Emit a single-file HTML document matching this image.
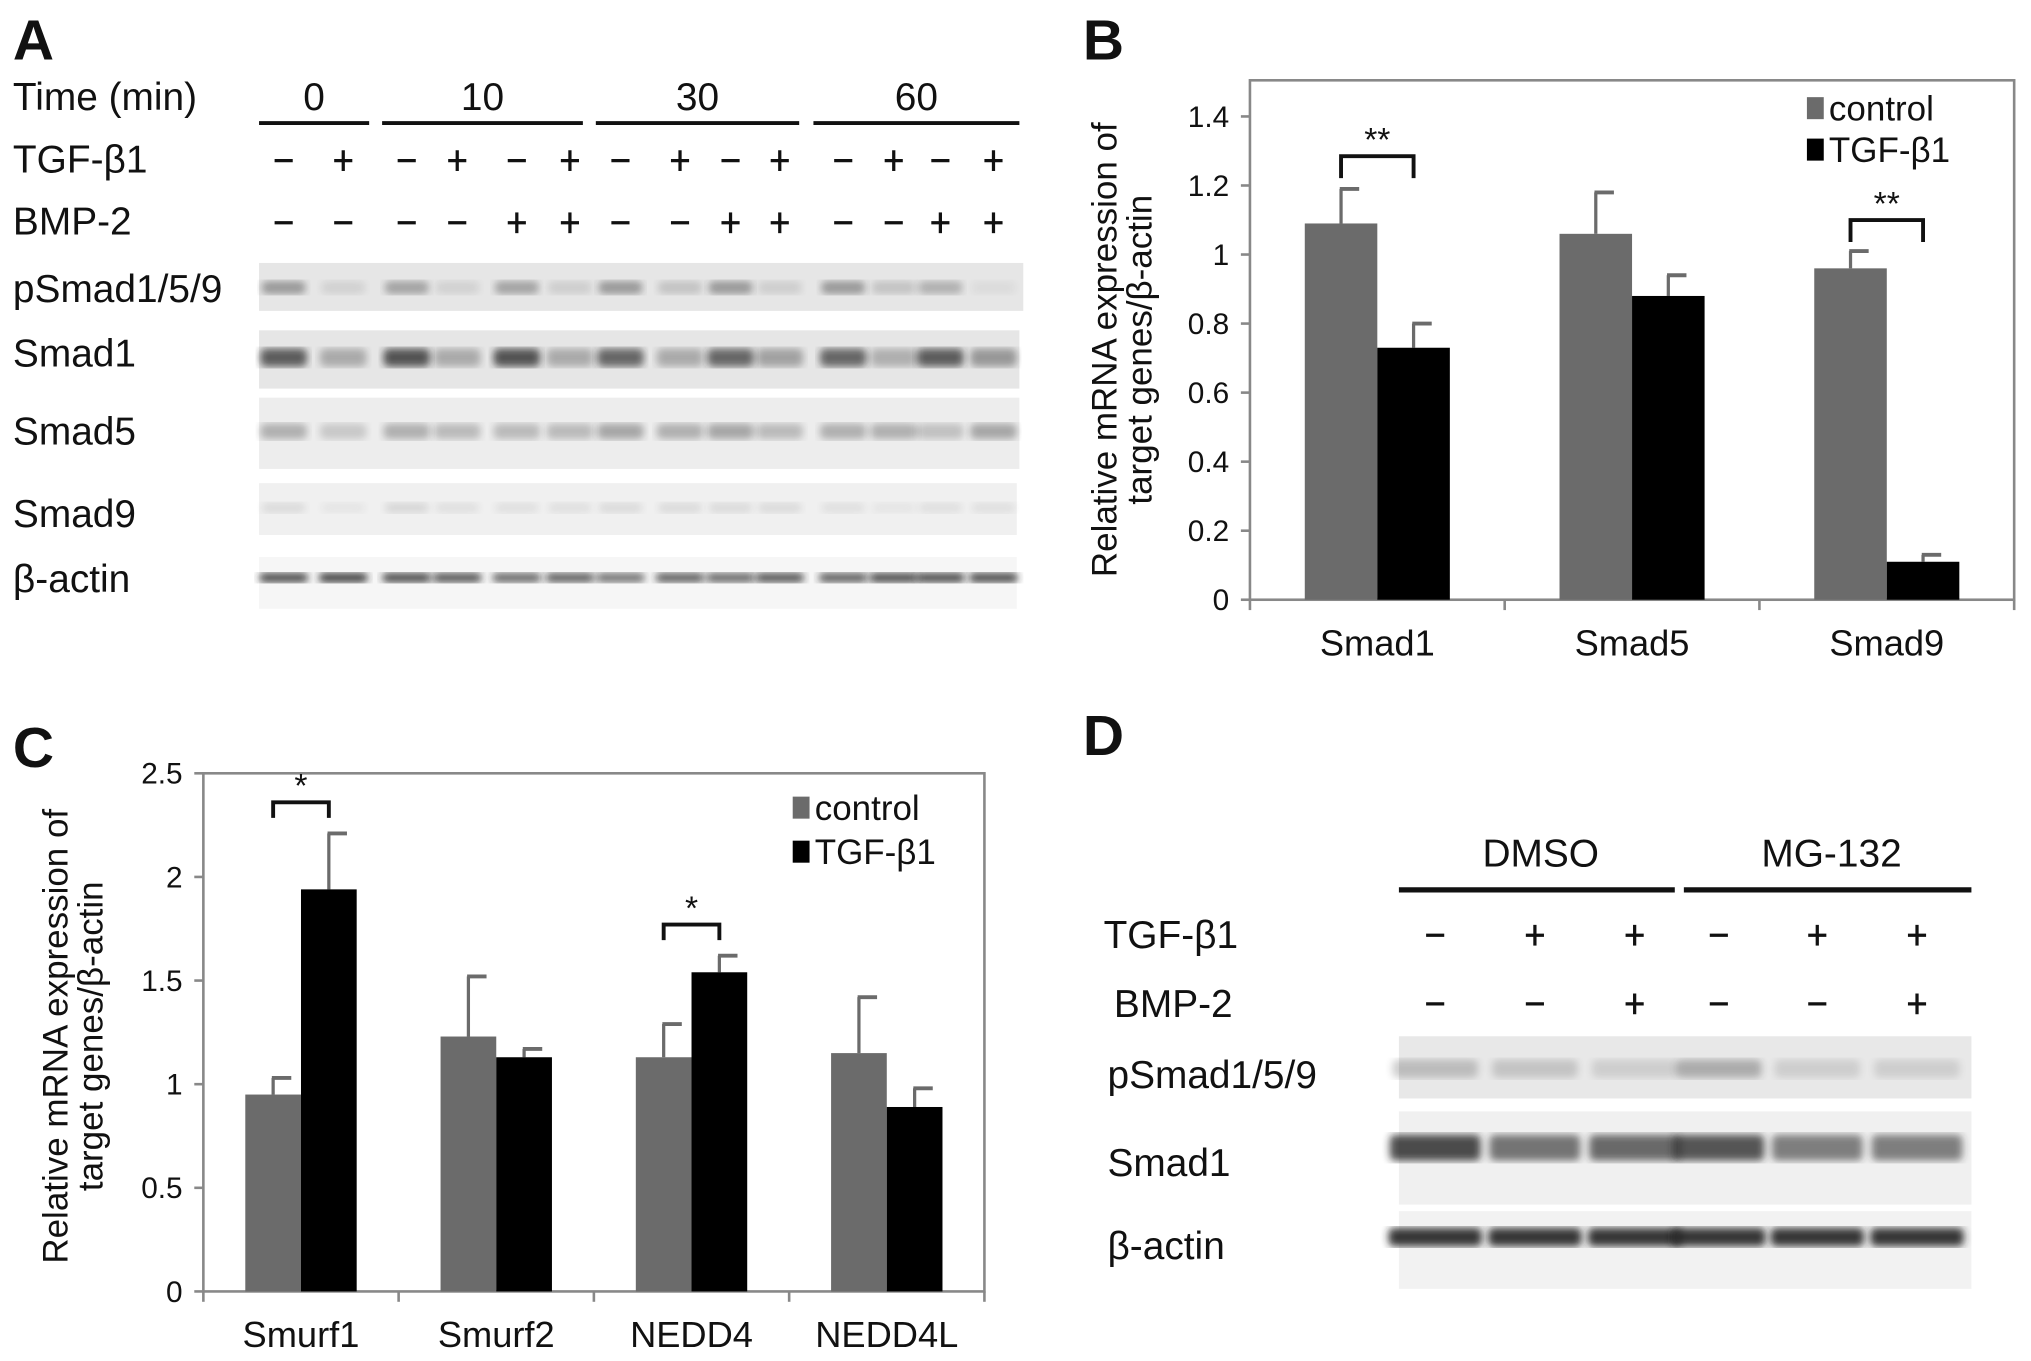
<!DOCTYPE html>
<html><head><meta charset="utf-8">
<style>
html,body{margin:0;padding:0;background:#fff;}
svg{display:block;}
text{font-family:"Liberation Sans",sans-serif;fill:#111;}
</style></head>
<body>
<svg id="fig" width="2031" height="1361" viewBox="0 0 1568 1050.7" preserveAspectRatio="none">
<defs>
<filter id="blur2"><feGaussianBlur stdDeviation="3"/></filter>
</defs>
<g id="panelA"></g>
<g id="panelB"></g>
<g id="panelC"></g>
<g id="panelD"></g>
</svg>
<script>
// ---------- Panel B data ----------
const bCategories = ["Smad1","Smad5","Smad9"];
const bControl = [1.09, 1.06, 0.96];
const bControlErr = [0.10, 0.12, 0.05];
const bTgf = [0.73, 0.88, 0.11];
const bTgfErr = [0.07, 0.06, 0.02];
const bTicks = [0,0.2,0.4,0.6,0.8,1,1.2,1.4];
const bTickLabels = ["0","0.2","0.4","0.6","0.8","1","1.2","1.4"];
// ---------- Panel C data ----------
const cCategories = ["Smurf1","Smurf2","NEDD4","NEDD4L"];
const cControl = [0.95, 1.23, 1.13, 1.15];
const cControlErr = [0.08, 0.29, 0.16, 0.27];
const cTgf = [1.94, 1.13, 1.54, 0.89];
const cTgfErr = [0.27, 0.04, 0.08, 0.09];
const cTicks = [0,0.5,1,1.5,2,2.5];
const cTickLabels = ["0","0.5","1","1.5","2","2.5"];

const NS="http://www.w3.org/2000/svg";
function mk(parent,tag,attrs,txt){const e=document.createElementNS(NS,tag);for(const k in attrs)e.setAttribute(k,attrs[k]);if(txt!==undefined)e.textContent=txt;parent.appendChild(e);return e;}

function barChart(g,cfg){
  const {left,right,top,bottom,ymax,cats,ctrl,ctrlE,tgf,tgfE,ticks,tickLabels,barW,sig,legend,title}=cfg;
  const y=v=>bottom-(v/ymax)*(bottom-top);
  const bw=(right-left)/cats.length;
  const cx=i=>left+bw*(i+0.5);
  let e=mk(g,'rect',{x:left,y:top,width:right-left,height:bottom-top,fill:'none',stroke:'#888','stroke-width':2});
  
  
  ticks.forEach((t,i)=>{
    let l=mk(g,'line',{x1:left-7,x2:left,y1:y(t),y2:y(t),stroke:'#888','stroke-width':2});
    
    
    let tx=mk(g,'text',{x:left-16,y:y(t)+8,'text-anchor':'end','font-size':23},tickLabels[i]);
    
    
  });
  for(let i=0;i<=cats.length;i++){
    let l=mk(g,'line',{x1:left+bw*i,x2:left+bw*i,y1:bottom,y2:bottom+8,stroke:'#888','stroke-width':2});
    
    
  }
  cats.forEach((c,i)=>{
    let tx=mk(g,'text',{x:cx(i),y:bottom+43,'text-anchor':'middle','font-size':28},c);
    
    
    [[ctrl,ctrlE,'#6b6b6b',-1,'control'],[tgf,tgfE,'#000',0,'tgf']].forEach(([vals,errs,col,off,nm])=>{
      const x0=cx(i)+off*barW;
      const top2=y(vals[i]+errs[i]);
      let el=mk(g,'line',{x1:x0+barW/2,x2:x0+barW/2,y1:y(vals[i]),y2:top2,stroke:'#6b6b6b','stroke-width':2.5});
      
      
      let cap=mk(g,'line',{x1:x0+barW/2-1,x2:x0+barW/2+14,y1:top2,y2:top2,stroke:'#6b6b6b','stroke-width':3});
      
      
      let r=mk(g,'rect',{x:x0,y:y(vals[i]),width:barW,height:bottom-y(vals[i]),fill:col});
      
      
    });
  });
  sig.forEach(s=>{
    const i=s.i;
    const xa=cx(i)-barW/2, xb=cx(i)+barW/2;
    const yb=y(s.v);
    let p=mk(g,'path',{d:`M${xa},${yb+s.drop} V${yb} H${xb} V${yb+s.drop}`,fill:'none',stroke:'#111','stroke-width':3});
    
    
    let t=mk(g,'text',{x:(xa+xb)/2,y:yb-4,'text-anchor':'middle','font-size':26},s.label);
    
    
  });
  [['control','#6b6b6b'],['TGF-β1','#000']].forEach(([lab,col],k)=>{
    let r=mk(g,'rect',{x:legend.x,y:legend.y+k*legend.dy,width:13,height:17,fill:col});
    
    
    let t=mk(g,'text',{x:legend.x+17,y:legend.y+k*legend.dy+18,'font-size':27},lab);
    
    
  });
  const tg=mk(g,'g',{transform:`translate(${title.x},${title.y}) rotate(-90)`});
  
  
  mk(tg,'text',{x:0,y:0,'text-anchor':'middle','font-size':27},'Relative mRNA expression of');
  mk(tg,'text',{x:0,y:27,'text-anchor':'middle','font-size':27},'target genes/β-actin');
}

barChart(document.getElementById('panelB'),{left:965,right:1555,top:62,bottom:463,ymax:1.5047,
  cats:bCategories,ctrl:bControl,ctrlE:bControlErr,tgf:bTgf,tgfE:bTgfErr,ticks:bTicks,tickLabels:bTickLabels,barW:56,
  sig:[{i:0,v:1.285,drop:17,label:'**'},{i:2,v:1.1,drop:17,label:'**'}],
  legend:{x:1395,y:75,dy:32},title:{x:862,y:270}});
barChart(document.getElementById('panelC'),{left:157,right:760,top:597,bottom:997,ymax:2.5,
  cats:cCategories,ctrl:cControl,ctrlE:cControlErr,tgf:cTgf,tgfE:cTgfErr,ticks:cTicks,tickLabels:cTickLabels,barW:43,
  sig:[{i:0,v:2.36,drop:12,label:'*'},{i:2,v:1.77,drop:12,label:'*'}],
  legend:{x:612,y:615,dy:34},title:{x:52,y:800}});

function sign(g,x,y,plus){
  let l=mk(g,'line',{x1:x-7,x2:x+7,y1:y,y2:y,stroke:'#111','stroke-width':2.5});
  
  
  if(plus){let v=mk(g,'line',{x1:x,x2:x,y1:y-8,y2:y+8,stroke:'#111','stroke-width':2.5});
    
    }
}
function label(g,x,y,t,size,name,anchor){
  let e=mk(g,'text',{x:x,y:y,'font-size':size,'text-anchor':anchor||'start'},t);
  
  
  return e;
}
function strip(g,x,y,w,h,bg,lanes,bandY,bandH,intens,name,lw){
  let r=mk(g,'rect',{x:x,y:y,width:w,height:h,fill:bg});
  
  
  lanes.forEach((lx,i)=>{
    let b=mk(g,'rect',{x:lx-lw/2,y:bandY-bandH/2,width:lw,height:bandH,rx:4,fill:'#222',opacity:intens[i],filter:'url(#blur2)'});
    
    
  });
}
const B=document.getElementById('panelB');
label(B,836,46,'B',44,'panel-label-b').setAttribute('font-weight','bold');
const C=document.getElementById('panelC');
label(C,10,592,'C',44,'panel-label-c').setAttribute('font-weight','bold');

const A=document.getElementById('panelA');
label(A,10,46,'A',44,'panel-label-a').setAttribute('font-weight','bold');
label(A,10,85,'Time (min)',30,'time-label');
label(A,10,133,'TGF-β1',30,'tgf-row-label');
label(A,10,181,'BMP-2',30,'bmp-row-label');
label(A,10,233,'pSmad1/5/9',30,'psmad-label');
label(A,10,283,'Smad1',30,'smad1-label');
label(A,10,343,'Smad5',30,'smad5-label');
label(A,10,407,'Smad9',30,'smad9-label');
label(A,10,457,'β-actin',30,'actin-label');
[[200,285,'0'],[295,450,'10'],[460,617,'30'],[628,787,'60']].forEach(([a,b,t])=>{
  let l=mk(A,'line',{x1:a,x2:b,y1:95,y2:95,stroke:'#111','stroke-width':3});
  
  
  label(A,(a+b)/2,85,t,30,'time-group-label','middle');
});
const aLanes=[219,265,314,353,399,440,479,525,564,602,651,690,726,767];
const aTgf=[0,1,0,1,0,1,0,1,0,1,0,1,0,1];
const aBmp=[0,0,0,0,1,1,0,0,1,1,0,0,1,1];
aLanes.forEach((x,i)=>{sign(A,x,124,aTgf[i]);sign(A,x,172,aBmp[i]);});
strip(A,200,203,590,37,'#e6e6e6',aLanes,222,10,[.4,.1,.35,.1,.35,.12,.4,.18,.4,.12,.4,.18,.28,.05],'psmad-blot',34);
strip(A,200,255,587,45,'#e6e6e6',aLanes,276,14,[.7,.3,.75,.3,.75,.3,.65,.3,.65,.35,.65,.28,.7,.4],'smad1-blot',36);
strip(A,200,307,587,55,'#ededed',aLanes,333,12,[.3,.18,.3,.25,.25,.25,.35,.3,.35,.25,.3,.3,.22,.35],'smad5-blot',36);
strip(A,200,373,585,40,'#f0f0f0',aLanes,392,8,[.1,.05,.12,.08,.08,.08,.1,.1,.1,.1,.08,.05,.08,.08],'smad9-blot',34);
strip(A,200,430,585,40,'#f6f6f6',aLanes,446,7,[.85,.9,.85,.8,.7,.75,.65,.75,.7,.8,.75,.85,.85,.85],'actin-blot',38);

const D=document.getElementById('panelD');
label(D,836,583,'D',44,'panel-label-d').setAttribute('font-weight','bold');
[[1080,1293,'DMSO'],[1300,1522,'MG-132']].forEach(([a,b,t])=>{
  let l=mk(D,'line',{x1:a,x2:b,y1:687,y2:687,stroke:'#111','stroke-width':4});
  
  
  label(D,(a+b)/2+3,669,t,30,'treatment-group-label','middle');
});
label(D,852,732,'TGF-β1',30,'tgf-row-label');
label(D,860,785,'BMP-2',30,'bmp-row-label');
label(D,855,840,'pSmad1/5/9',30,'psmad-label');
label(D,855,908,'Smad1',30,'smad1-label');
label(D,855,972,'β-actin',30,'actin-label');
const dLanes=[1108,1185,1262,1327,1403,1480];
const dTgf=[0,1,1,0,1,1], dBmp=[0,0,1,0,0,1];
dLanes.forEach((x,i)=>{sign(D,x,722,dTgf[i]);sign(D,x,775,dBmp[i]);});
strip(D,1080,800,442,48,'#e8e8e8',dLanes,825,14,[.22,.18,.13,.3,.13,.13],'psmad-blot-d',66);
strip(D,1080,858,442,72,'#f0f0f0',dLanes,886,20,[.8,.6,.65,.75,.55,.55],'smad1-blot-d',70);
strip(D,1080,935,442,60,'#f2f2f2',dLanes,955,14,[.9,.9,.9,.9,.9,.9],'actin-blot-d',72);
</script>
</body></html>
